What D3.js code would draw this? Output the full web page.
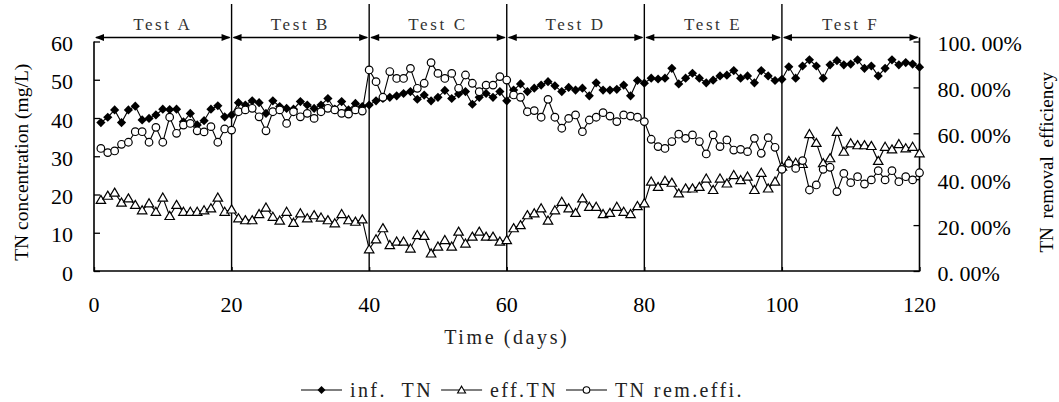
<!DOCTYPE html>
<html>
<head>
<meta charset="utf-8">
<script src="https://cdn.jsdelivr.net/npm/d3@7"></script>
<style>
  body { margin: 0; background: #fff; }
</style>
</head>
<body>
<div id="chart"></div>
<script>
// day 1..120, six tests of 20 days each
const days = d3.range(1, 121)

// influent TN (mg/L)
const infTN = [
  38.8, 40.2, 42.1, 38.8, 42.1, 43.1, 39.5, 39.9, 40.8, 42.3, 42.2, 42.3, 39.0, 41.2, 38.2, 39.3, 42.3, 43.2, 40.3, 40.8,
  44.0, 43.4, 44.5, 44.0, 41.2, 44.5, 43.0, 42.5, 42.3, 44.3, 43.4, 42.5, 43.4, 45.1, 42.3, 44.3, 42.1, 43.8, 43.0, 43.4,
  44.5, 45.1, 45.4, 45.8, 46.4, 46.9, 44.9, 46.0, 44.5, 45.4, 47.2, 45.1, 46.3, 46.9, 43.6, 45.4, 46.4, 45.4, 46.9, 44.5,
  47.3, 48.9, 46.9, 47.8, 48.6, 49.5, 48.4, 46.9, 48.0, 47.3, 47.8, 45.8, 49.2, 47.3, 47.3, 47.5, 48.6, 45.8, 49.8, 49.1,
  50.4, 50.2, 50.4, 53.0, 48.9, 50.4, 51.7, 50.4, 49.2, 49.9, 51.0, 51.2, 52.4, 50.4, 51.0, 49.2, 52.4, 51.0, 49.8, 50.1,
  53.4, 50.4, 53.6, 55.2, 53.6, 50.4, 53.9, 55.0, 53.9, 54.1, 55.2, 53.0, 53.6, 51.0, 53.0, 55.2, 53.9, 54.5, 54.1, 53.3
]

// effluent TN (mg/L)
const effTN = [
  18.6, 19.7, 20.5, 17.9, 19.0, 17.3, 15.9, 17.7, 15.5, 19.2, 14.4, 17.3, 15.5, 15.5, 15.5, 15.9, 16.4, 19.2, 15.5, 16.1,
  13.8, 13.3, 13.3, 14.9, 16.6, 14.2, 13.2, 15.5, 12.6, 15.1, 13.8, 14.6, 14.0, 13.3, 12.5, 14.9, 13.3, 12.9, 13.5, 5.7,
  8.3, 11.2, 6.8, 7.7, 7.7, 5.9, 9.4, 9.2, 4.6, 6.4, 8.1, 6.4, 10.3, 7.2, 9.0, 10.3, 9.0, 9.0, 7.7, 8.1,
  11.2, 12.0, 14.6, 15.1, 16.4, 13.2, 15.9, 18.1, 16.4, 15.2, 19.0, 16.8, 16.8, 14.9, 15.2, 16.8, 15.5, 14.9, 17.0, 17.7,
  23.4, 22.0, 23.6, 23.1, 20.3, 21.6, 21.6, 22.0, 24.2, 21.2, 24.2, 22.9, 25.1, 23.8, 24.7, 21.2, 25.7, 21.6, 23.4, 27.3,
  28.8, 28.3, 28.0, 35.8, 33.5, 28.2, 29.5, 36.4, 31.2, 33.4, 32.9, 32.9, 32.7, 28.8, 32.5, 31.8, 33.2, 32.1, 32.5, 30.8
]

// TN removal efficiency (%)
const remEff = [
  53.4, 51.6, 52.3, 55.2, 56.1, 60.7, 60.7, 56.1, 62.6, 56.1, 67.0, 60.0, 63.6, 64.3, 61.1, 60.6, 62.9, 56.1, 61.9, 61.4,
  69.4, 70.2, 70.9, 67.2, 61.1, 69.4, 70.2, 64.3, 69.4, 67.2, 68.7, 66.5, 69.4, 70.9, 70.2, 68.7, 68.4, 70.2, 69.7, 87.6,
  82.5, 75.7, 86.9, 83.9, 83.9, 88.3, 79.6, 81.8, 90.8, 86.1, 83.9, 86.1, 79.6, 85.4, 81.8, 78.1, 81.0, 81.0, 84.7, 83.2,
  76.7, 75.7, 69.4, 69.9, 67.0, 74.8, 67.0, 62.2, 66.5, 68.0, 60.7, 65.8, 67.0, 69.0, 67.5, 65.1, 68.0, 67.5, 67.0, 65.1,
  57.4, 54.2, 53.4, 56.4, 59.6, 57.8, 59.3, 56.4, 51.0, 59.3, 54.2, 57.1, 52.7, 53.0, 52.0, 57.8, 51.3, 58.1, 53.9, 44.3,
  46.9, 44.7, 48.1, 35.3, 37.5, 44.3, 45.2, 34.6, 42.5, 38.5, 41.1, 37.9, 39.7, 43.7, 39.7, 43.7, 38.9, 41.1, 39.7, 42.8
]

const tests = ["Test A", "Test B", "Test C", "Test D", "Test E", "Test F"]
const testBounds = [0, 20, 40, 60, 80, 100, 120]
const xTicks = [0, 20, 40, 60, 80, 100, 120]
const leftTicks = [0, 10, 20, 30, 40, 50, 60]
const rightTicks = [0, 20, 40, 60, 80, 100]
const seriesNames = ["inf.\u00a0\u00a0TN", "eff.TN", "TN\u00a0rem.effi."]

const width = 1059
const height = 402
const margin = { top: 41.5, right: 139.5, bottom: 131, left: 94 }

const serif = "'Liberation Serif', 'Times New Roman', serif"

const svg = d3.select("#chart")
  .append("svg")
  .attr("width", width)
  .attr("height", height)
  .style("display", "block")

const x = d3.scaleLinear().domain([0, 120]).range([margin.left, width - margin.right])
const y = d3.scaleLinear().domain([0, 60]).range([height - margin.bottom, margin.top])
const y2 = d3.scaleLinear().domain([0, 100]).range([height - margin.bottom, margin.top])

const x0 = x(0), x1 = x(120), yb = y(0), yt = y(60)

// axes: ticks point inward, labels drawn separately
const leftAxis = svg.append("g")
  .attr("transform", `translate(${x0},0)`)
  .call(d3.axisRight(y).tickValues(leftTicks).tickSize(6).tickFormat(""))
const rightAxis = svg.append("g")
  .attr("transform", `translate(${x1},0)`)
  .call(d3.axisLeft(y2).tickValues(rightTicks).tickSize(6).tickFormat(""))
const bottomAxis = svg.append("g")
  .attr("transform", `translate(0,${yb})`)
  .call(d3.axisTop(x).tickValues(xTicks).tickSize(4).tickFormat(""))

for (const g of [leftAxis, rightAxis, bottomAxis]) {
  g.select(".domain").remove()
  g.selectAll("line").attr("stroke", "#000").attr("stroke-width", 1.3)
}

// frame (left, bottom, right)
svg.append("path")
  .attr("d", `M${x0},${yt}V${yb}H${x1}V${yt - 4}`)
  .attr("fill", "none")
  .attr("stroke", "#000")
  .attr("stroke-width", 1.6)

// test separators
svg.selectAll("line.sep")
  .data(testBounds.slice(1, -1))
  .enter()
    .append("line")
    .attr("class", "sep")
    .attr("x1", d => x(d)).attr("x2", d => x(d))
    .attr("y1", 4).attr("y2", yb)
    .attr("stroke", "#000")
    .attr("stroke-width", 1.4)

// double-headed arrows for each test period
const arrowY = yt - 4
const head = 9, halfH = 3.6
const segs = tests.map((t, i) => ({ name: t, a: testBounds[i], b: testBounds[i + 1] }))

svg.selectAll("line.arrow")
  .data(segs)
  .enter()
    .append("line")
    .attr("class", "arrow")
    .attr("x1", d => x(d.a) + 2).attr("x2", d => x(d.b) - 2)
    .attr("y1", arrowY).attr("y2", arrowY)
    .attr("stroke", "#000")
    .attr("stroke-width", 1.5)

svg.selectAll("path.head")
  .data(segs.flatMap(d => [{ px: x(d.a) + 1, dir: 1 }, { px: x(d.b) - 1, dir: -1 }]))
  .enter()
    .append("path")
    .attr("class", "head")
    .attr("d", d => `M${d.px},${arrowY}L${d.px + d.dir * head},${arrowY - halfH}L${d.px + d.dir * head},${arrowY + halfH}Z`)
    .attr("fill", "#000")

svg.selectAll("text.test")
  .data(segs)
  .enter()
    .append("text")
    .attr("class", "test")
    .attr("x", d => x((d.a + d.b) / 2))
    .attr("y", 24)
    .attr("text-anchor", "middle")
    .attr("dominant-baseline", "central")
    .attr("font-family", serif)
    .attr("font-size", 17)
    .attr("letter-spacing", 2.6)
    .attr("fill", "#333")
    .text(d => d.name)

// tick labels
svg.selectAll("text.ly")
  .data(leftTicks)
  .enter()
    .append("text")
    .attr("class", "ly")
    .attr("x", x0 - 21)
    .attr("y", d => y(d) + 2)
    .attr("text-anchor", "end")
    .attr("dominant-baseline", "central")
    .attr("font-family", serif)
    .attr("font-size", 22)
    .text(d => d)

svg.selectAll("text.ry")
  .data(rightTicks)
  .enter()
    .append("text")
    .attr("class", "ry")
    .attr("x", x1 + 18)
    .attr("y", d => y2(d) + 2)
    .attr("text-anchor", "start")
    .attr("dominant-baseline", "central")
    .attr("font-family", serif)
    .attr("font-size", 22)
    .text(d => d3.format(".2f")(d).replace(".", ". ") + "%")

svg.selectAll("text.tx")
  .data(xTicks)
  .enter()
    .append("text")
    .attr("class", "tx")
    .attr("x", d => x(d))
    .attr("y", yb + 33)
    .attr("text-anchor", "middle")
    .attr("dominant-baseline", "central")
    .attr("font-family", serif)
    .attr("font-size", 22)
    .text(d => d)

// axis titles
svg.append("text")
  .attr("transform", `translate(21,${(yt + yb) / 2 + 6}) rotate(-90)`)
  .attr("text-anchor", "middle")
  .attr("dominant-baseline", "central")
  .attr("font-family", serif)
  .attr("font-size", 19.5)
  .text("TN concentration (mg/L)")

svg.append("text")
  .attr("transform", `translate(1046,${(yt + yb) / 2 + 6}) rotate(-90)`)
  .attr("text-anchor", "middle")
  .attr("dominant-baseline", "central")
  .attr("font-family", serif)
  .attr("font-size", 19)
  .attr("word-spacing", 4)
  .text("TN removal efficiency")

svg.append("text")
  .attr("x", (x0 + x1) / 2)
  .attr("y", yb + 66)
  .attr("text-anchor", "middle")
  .attr("dominant-baseline", "central")
  .attr("font-family", serif)
  .attr("font-size", 20)
  .attr("letter-spacing", 2.6)
  .attr("fill", "#222")
  .text("Time\u00a0(days)")

// marker shapes
const diamond = (cx, cy, r = 4.6) => `M${cx},${cy - r}L${cx + r},${cy}L${cx},${cy + r}L${cx - r},${cy}Z`
const triangle = (cx, cy, s = 4.5) => `M${cx},${cy - s}L${cx + s * 1.05},${cy + s * 0.8}L${cx - s * 1.05},${cy + s * 0.8}Z`

const line = (sy, vals) => d3.line().x((d, i) => x(days[i])).y((d, i) => sy(vals[i]))(vals)

const drawSeries = (cls, sy, vals) => {
  svg.append("path")
    .attr("class", cls)
    .attr("d", line(sy, vals))
    .attr("fill", "none")
    .attr("stroke", "#000")
    .attr("stroke-width", 1.1)
}

drawSeries("inf", y, infTN)
svg.selectAll("path.dia")
  .data(infTN)
  .enter()
    .append("path")
    .attr("class", "dia")
    .attr("d", (d, i) => diamond(x(days[i]), y(d)))
    .attr("fill", "#000")

drawSeries("eff", y, effTN)
svg.selectAll("path.tri")
  .data(effTN)
  .enter()
    .append("path")
    .attr("class", "tri")
    .attr("d", (d, i) => triangle(x(days[i]), y(d)))
    .attr("fill", "#fff")
    .attr("stroke", "#000")
    .attr("stroke-width", 1.2)

drawSeries("rem", y2, remEff)
svg.selectAll("circle.rem")
  .data(remEff)
  .enter()
    .append("circle")
    .attr("class", "rem")
    .attr("cx", (d, i) => x(days[i]))
    .attr("cy", d => y2(d))
    .attr("r", 3.8)
    .attr("fill", "#fff")
    .attr("stroke", "#000")
    .attr("stroke-width", 1.2)

// legend
const legendY = 390
const legend = svg.append("g")
let lx = 301
seriesNames.forEach((name, i) => {
  legend.append("line")
    .attr("x1", lx).attr("x2", lx + 41)
    .attr("y1", legendY).attr("y2", legendY)
    .attr("stroke", "#000").attr("stroke-width", 1.2)
  const cx = lx + 20.5
  if (i === 0) {
    legend.append("path").attr("d", diamond(cx, legendY, 4)).attr("fill", "#000")
  } else if (i === 1) {
    legend.append("path").attr("d", triangle(cx, legendY, 3.8))
      .attr("fill", "#fff").attr("stroke", "#000").attr("stroke-width", 1.1)
  } else {
    legend.append("circle").attr("cx", cx).attr("cy", legendY).attr("r", 3.3)
      .attr("fill", "#fff").attr("stroke", "#000").attr("stroke-width", 1.1)
  }
  const t = legend.append("text")
    .attr("x", lx + 49)
    .attr("y", legendY)
    .attr("dominant-baseline", "central")
    .attr("font-family", serif)
    .attr("font-size", 20)
    .attr("letter-spacing", 2.4)
    .attr("fill", "#222")
    .text(name)
  lx += 49 + t.node().getComputedTextLength() + 8
})
</script>
</body>
</html>
